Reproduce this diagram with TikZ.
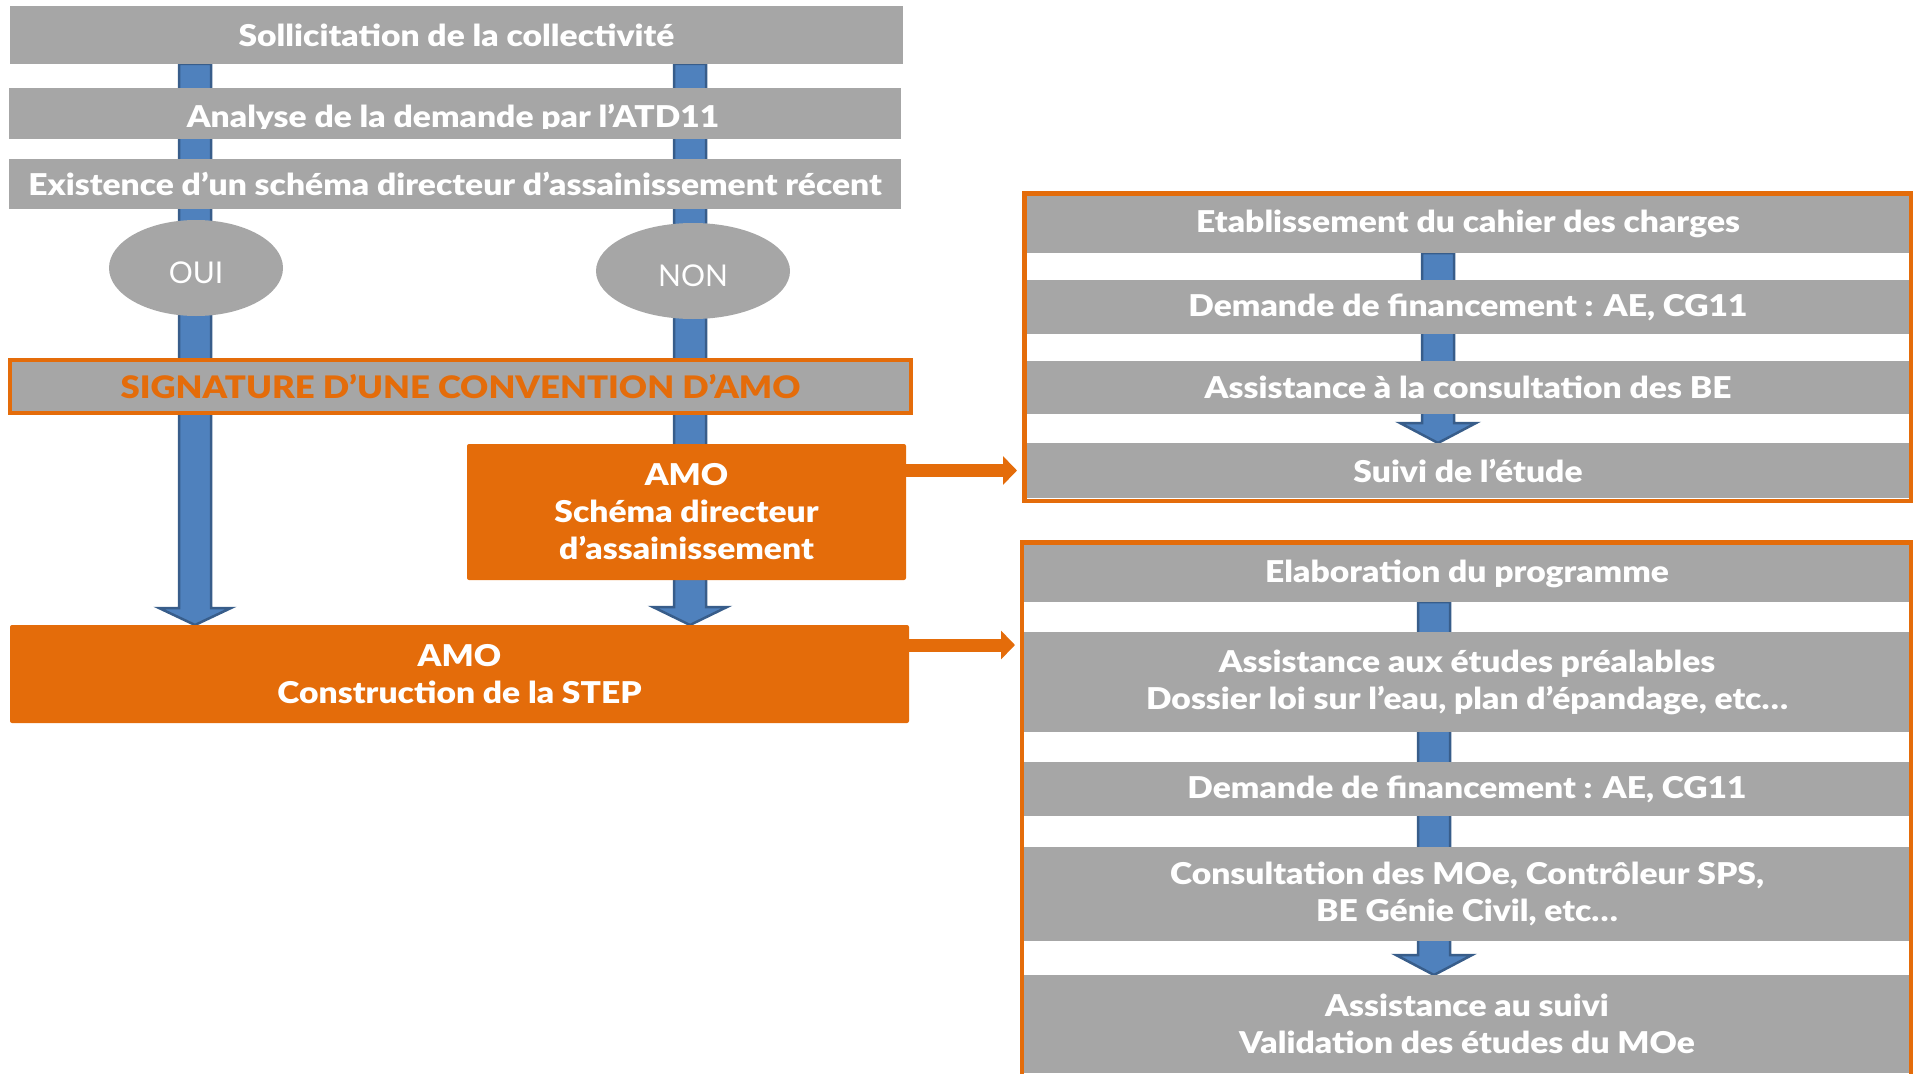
\documentclass[tikz,border=0pt]{standalone}
\usepackage{fontspec}
\setmainfont{Lato}[BoldFont={Lato Black},BoldFeatures={FakeStretch=1.12}]
\usetikzlibrary{arrows.meta,shapes.geometric,calc}
\definecolor{boxgray}{HTML}{A6A6A6}
\definecolor{amoorange}{HTML}{E46C0A}
\definecolor{arrowblue}{HTML}{4F81BD}
\definecolor{arrowedge}{HTML}{385D8A}
\pgfdeclarelayer{background}
\pgfsetlayers{background,main}
% block arrow: start coord, end coord, half shaft, half head, head length
\newcommand\blkarrow[5]{%
  \filldraw[blockarrow] ($(#1)+(-#3,0)$) -- ($(#2)+(-#3,-#5)$) -- ($(#2)+(-#4,-#5)$) -- (#2)
    -- ($(#2)+(#4,-#5)$) -- ($(#2)+(#3,-#5)$) -- ($(#1)+(#3,0)$) -- cycle;}
\tikzset{
  graybox/.style={rectangle, fill=boxgray, inner sep=0pt, outer sep=0pt, text=white,
    font=\fontsize{30}{37}\selectfont\bfseries, align=center},
  orangebox/.style={graybox, fill=amoorange, rounded corners=2pt},
  boxtext/.style={inner sep=0pt, text=white, font=\fontsize{30}{37}\selectfont\bfseries},
  yesno/.style={ellipse, fill=boxgray, inner sep=0pt, text=white,
    font=\fontsize{30}{36}\selectfont},
  panel/.style={rectangle, draw=amoorange, line width=4.5pt, inner sep=0pt},
  blockarrow/.style={fill=arrowblue, draw=arrowedge, line width=2.5pt, line join=miter},
  orarrow/.style={draw=amoorange, line width=13pt, -{Triangle[width=28pt,length=14pt]}}
}
\begin{document}
\begin{tikzpicture}[x=1pt,y=-1pt]
\useasboundingbox (0,0) rectangle (1913,1073);
\clip (0,0) rectangle (1913,1073);

% left column
\node[graybox, minimum width=893pt, minimum height=58pt] (box1) at (456.5,35) {Sollicitation de la collectivité};
\node[graybox, minimum width=892pt, minimum height=51pt] (box2) at (455,113.5) {};
\begin{scope}
  \clip (0,88) rectangle (913,128);
  \node[boxtext, anchor=base] (box2t) at (453,127) {Analyse de la demande par l’ATD11};
\end{scope}
\node[graybox, minimum width=892pt, minimum height=50pt] (box3) at (455,184) {Existence d’un schéma directeur d’assainissement récent};

\node[yesno, minimum width=174pt, minimum height=96pt] (oui) at (196,268) {\raisebox{-15pt}[0pt][0pt]{OUI}};
\node[yesno, minimum width=194pt, minimum height=96pt] (non) at (693,271) {\raisebox{-15.5pt}[0pt][0pt]{NON}};

\node[graybox, draw=amoorange, line width=4pt, minimum width=901pt, minimum height=53pt,
  text=amoorange, font=\fontsize{31}{37}\selectfont\bfseries] (sig) at (460.5,386.5) {SIGNATURE D’UNE CONVENTION D’AMO};

\node[orangebox, minimum width=439pt, minimum height=136pt] (schema) at (686.5,512)
  {AMO\\Schéma directeur\\d’assainissement};
\node[orangebox, minimum width=899pt, minimum height=98pt] (constr) at (459.5,674)
  {AMO\\Construction de la STEP};

% right upper panel
\node[graybox, minimum width=884pt, minimum height=58pt] (etab) at (1468,224) {Etablissement du cahier des charges};
\node[graybox, minimum width=884pt, minimum height=54pt] (dem1) at (1468,307) {Demande de financement : AE, CG11};
\node[graybox, minimum width=884pt, minimum height=53pt] (asbe) at (1468,387.5) {Assistance à la consultation des BE};
\node[graybox, minimum width=884pt, minimum height=55pt] (suivi) at (1468,470.5) {Suivi de l’étude};
\node[panel, minimum width=886.5pt, minimum height=307.5pt] (panel1) at (1467.5,347) {};

% right lower panel
\node[graybox, minimum width=886pt, minimum height=57pt] (elab) at (1467,573.5) {Elaboration du programme};
\node[graybox, minimum width=886pt, minimum height=100pt] (etpre) at (1467,682)
  {Assistance aux études préalables\\Dossier loi sur l’eau, plan d’épandage, etc…};
\node[graybox, minimum width=886pt, minimum height=54pt] (dem2) at (1467,789) {Demande de financement : AE, CG11};
\node[graybox, minimum width=886pt, minimum height=94pt] (consult) at (1467,894)
  {Consultation des MOe, Contrôleur SPS,\\BE Génie Civil, etc…};
\node[graybox, minimum width=886pt, minimum height=98pt] (suiv2) at (1467,1024)
  {Assistance au suivi\\Validation des études du MOe};
\node[panel, minimum width=889pt, minimum height=557.5pt] (panel2) at (1466.25,821.25) {};

% orange arrows
\draw[orarrow, shorten >=9pt] (schema.east |- suivi.west) -- (suivi.west);
\draw[orarrow, shorten >=4.5pt] ([yshift=29pt]constr.east) -- ([yshift=29pt]constr.east -| panel2.west);

% blue block arrows (behind)
\coordinate (lx) at (195,0);
\coordinate (rx) at (690,0);
\coordinate (px1) at (1438,0);
\coordinate (px2) at (1434,0);
\coordinate (la) at (box1.south -| lx);
\coordinate (lb) at (constr.north -| lx);
\coordinate (ra) at (box1.south -| rx);
\coordinate (rb) at (constr.north -| rx);
\coordinate (pa) at (etab.south -| px1);
\coordinate (pb) at (suivi.north -| px1);
\coordinate (qa) at (elab.south -| px2);
\coordinate (qb) at (suiv2.north -| px2);
\begin{pgfonlayer}{background}
  \blkarrow{la}{lb}{16}{36}{17}
  \blkarrow{ra}{rb}{16}{37}{18}
  \blkarrow{pa}{pb}{16}{38}{20}
  \blkarrow{qa}{qb}{16}{38}{20}
\end{pgfonlayer}
\end{tikzpicture}
\end{document}
